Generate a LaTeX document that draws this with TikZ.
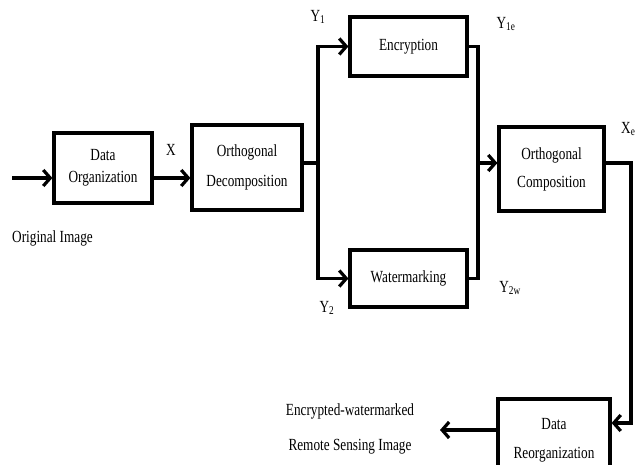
\documentclass[tikz,border=0pt]{standalone}
\usepackage{fontspec}
\setmainfont[FakeStretch=0.78]{Liberation Serif}
\usepackage{tikz}
\usetikzlibrary{arrows,arrows.meta}

\begin{document}
\begin{tikzpicture}[x=1pt,y=-1pt,
  block/.style={draw,black,line width=3.2pt,align=center,font=\fontsize{17}{28}\selectfont,inner sep=0pt},
  arr/.style={black,line width=3.2pt,-{Straight Barb[length=7pt,width=16pt,line width=3.2pt]}},
  wire/.style={black,line width=3.2pt},
  lbl/.style={black,font=\fontsize{17}{20}\selectfont,inner sep=0pt}]
\useasboundingbox (0,0) rectangle (639,465);

\node [block,minimum width=98,minimum height=70,font=\fontsize{17}{22}\selectfont] (dorg) at (103,168) {Data\\Organization};
\node [block,minimum width=110,minimum height=85,font=\fontsize{17}{30}\selectfont] (odec) at (247,167.5) {Orthogonal\\Decomposition};
\node [block,minimum width=117,minimum height=59] (enc) at (408.5,46.5) {Encryption};
\node [block,minimum width=117,minimum height=57] (wat) at (408.5,278.5) {Watermarking};
\node [block,minimum width=105,minimum height=84] (ocomp) at (551.5,169) {Orthogonal\\Composition};
\node [block,minimum width=112,minimum height=82,font=\fontsize{17}{29}\selectfont] (dreorg) at (554,440) {Data\\Reorganization};

\coordinate (in) at (12,178);
\coordinate (split) at (318,163);
\coordinate (join) at (478,163);
\coordinate (corner) at (631,163);
\coordinate (out) at (440,430);

\draw [arr] (in) -- (in -| dorg.west);
\draw [arr] (in -| dorg.east) -- (in -| odec.west);
\draw [wire] (split -| odec.east) -- (split);
\draw [arr] (split) |- (enc.west);
\draw [arr] (split) |- (wat.west);
\draw [wire] (enc.east) -| (join);
\draw [wire] (wat.east) -| (join);
\draw [arr] (join) -- (join -| ocomp.west);
\draw [arr] (corner -| ocomp.east) -- (corner) |- ([yshift=17pt]dreorg.east);
\draw [arr] (out -| dreorg.west) -- (out);

\node [lbl,anchor=west] (orig) at (12,238) {Original Image};
\node [lbl] (xlbl) at (171,150) {X};
\node [lbl] (y1) at (318,17) {Y\textsubscript{1}};
\node [lbl] (y1e) at (506,24) {Y\textsubscript{1e}};
\node [lbl] (y2) at (327,308) {Y\textsubscript{2}};
\node [lbl] (y2w) at (510,288) {Y\textsubscript{2w}};
\node [lbl,anchor=west] (xe) at (621,129) {X\textsubscript{e}};
\node [lbl,align=center,font=\fontsize{17}{35}\selectfont] (result) at (350,429) {Encrypted-watermarked\\Remote Sensing Image};

\end{tikzpicture}
\end{document}
